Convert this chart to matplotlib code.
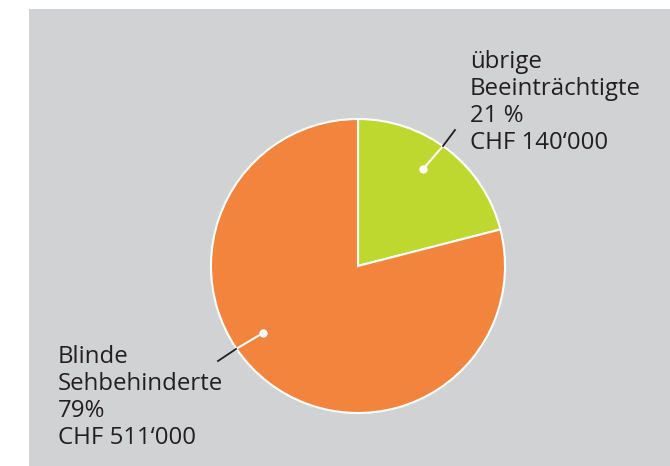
import matplotlib
matplotlib.use("Agg")
import matplotlib.pyplot as plt
from matplotlib.patches import Rectangle

categories = ["übrige\nBeeinträchtigte", "Blinde\nSehbehinderte"]
shares = [21, 79]
pct_labels = ["21 %", "79%"]
amounts = ["CHF 140‘000", "CHF 511‘000"]
colors = ["#BED82F", "#F2843E"]

W, H = 670, 466
fig = plt.figure(figsize=(W / 100, H / 100), dpi=100)
ax = fig.add_axes([0, 0, 1, 1])
ax.set_xlim(0, W)
ax.set_ylim(0, H)
ax.axis("off")

def Y(y):
    return H - y

ax.add_patch(Rectangle((29, 0), W - 29, H - 9, facecolor="#D1D2D4", edgecolor="none", zorder=0))

ax.pie(shares, colors=colors, startangle=90, counterclock=False,
       center=(358, Y(266)), radius=147, frame=True,
       wedgeprops=dict(edgecolor="white", linewidth=1.5))
ax.set_xlim(0, W)
ax.set_ylim(0, H)
ax.set_aspect("auto")
ax.axis("off")

font = dict(family="Open Sans", fontsize=17.3, color="#231F20", linespacing=1.17)

txt_r = f"{categories[0]}\n{pct_labels[0]}\n{amounts[0]}"
ax.text(470, Y(149), txt_r, ha="left", va="baseline", **font)
txt_l = f"{categories[1]}\n{pct_labels[1]}\n{amounts[1]}"
ax.text(58, Y(444), txt_l, ha="left", va="baseline", **font)

# leader lines
ax.plot([423, 443], [Y(169), Y(146)], color="white", lw=1.5, zorder=5)
ax.plot([443, 455], [Y(146), Y(130)], color="#231F20", lw=1.3, zorder=5)
ax.plot([423], [Y(169)], "o", color="white", ms=5, zorder=6)

ax.plot([263, 236], [Y(333), Y(349)], color="white", lw=1.5, zorder=5)
ax.plot([236, 218], [Y(349), Y(361)], color="#231F20", lw=1.3, zorder=5)
ax.plot([263], [Y(333)], "o", color="white", ms=5, zorder=6)

fig.savefig("out.png", dpi=100, facecolor="white")
